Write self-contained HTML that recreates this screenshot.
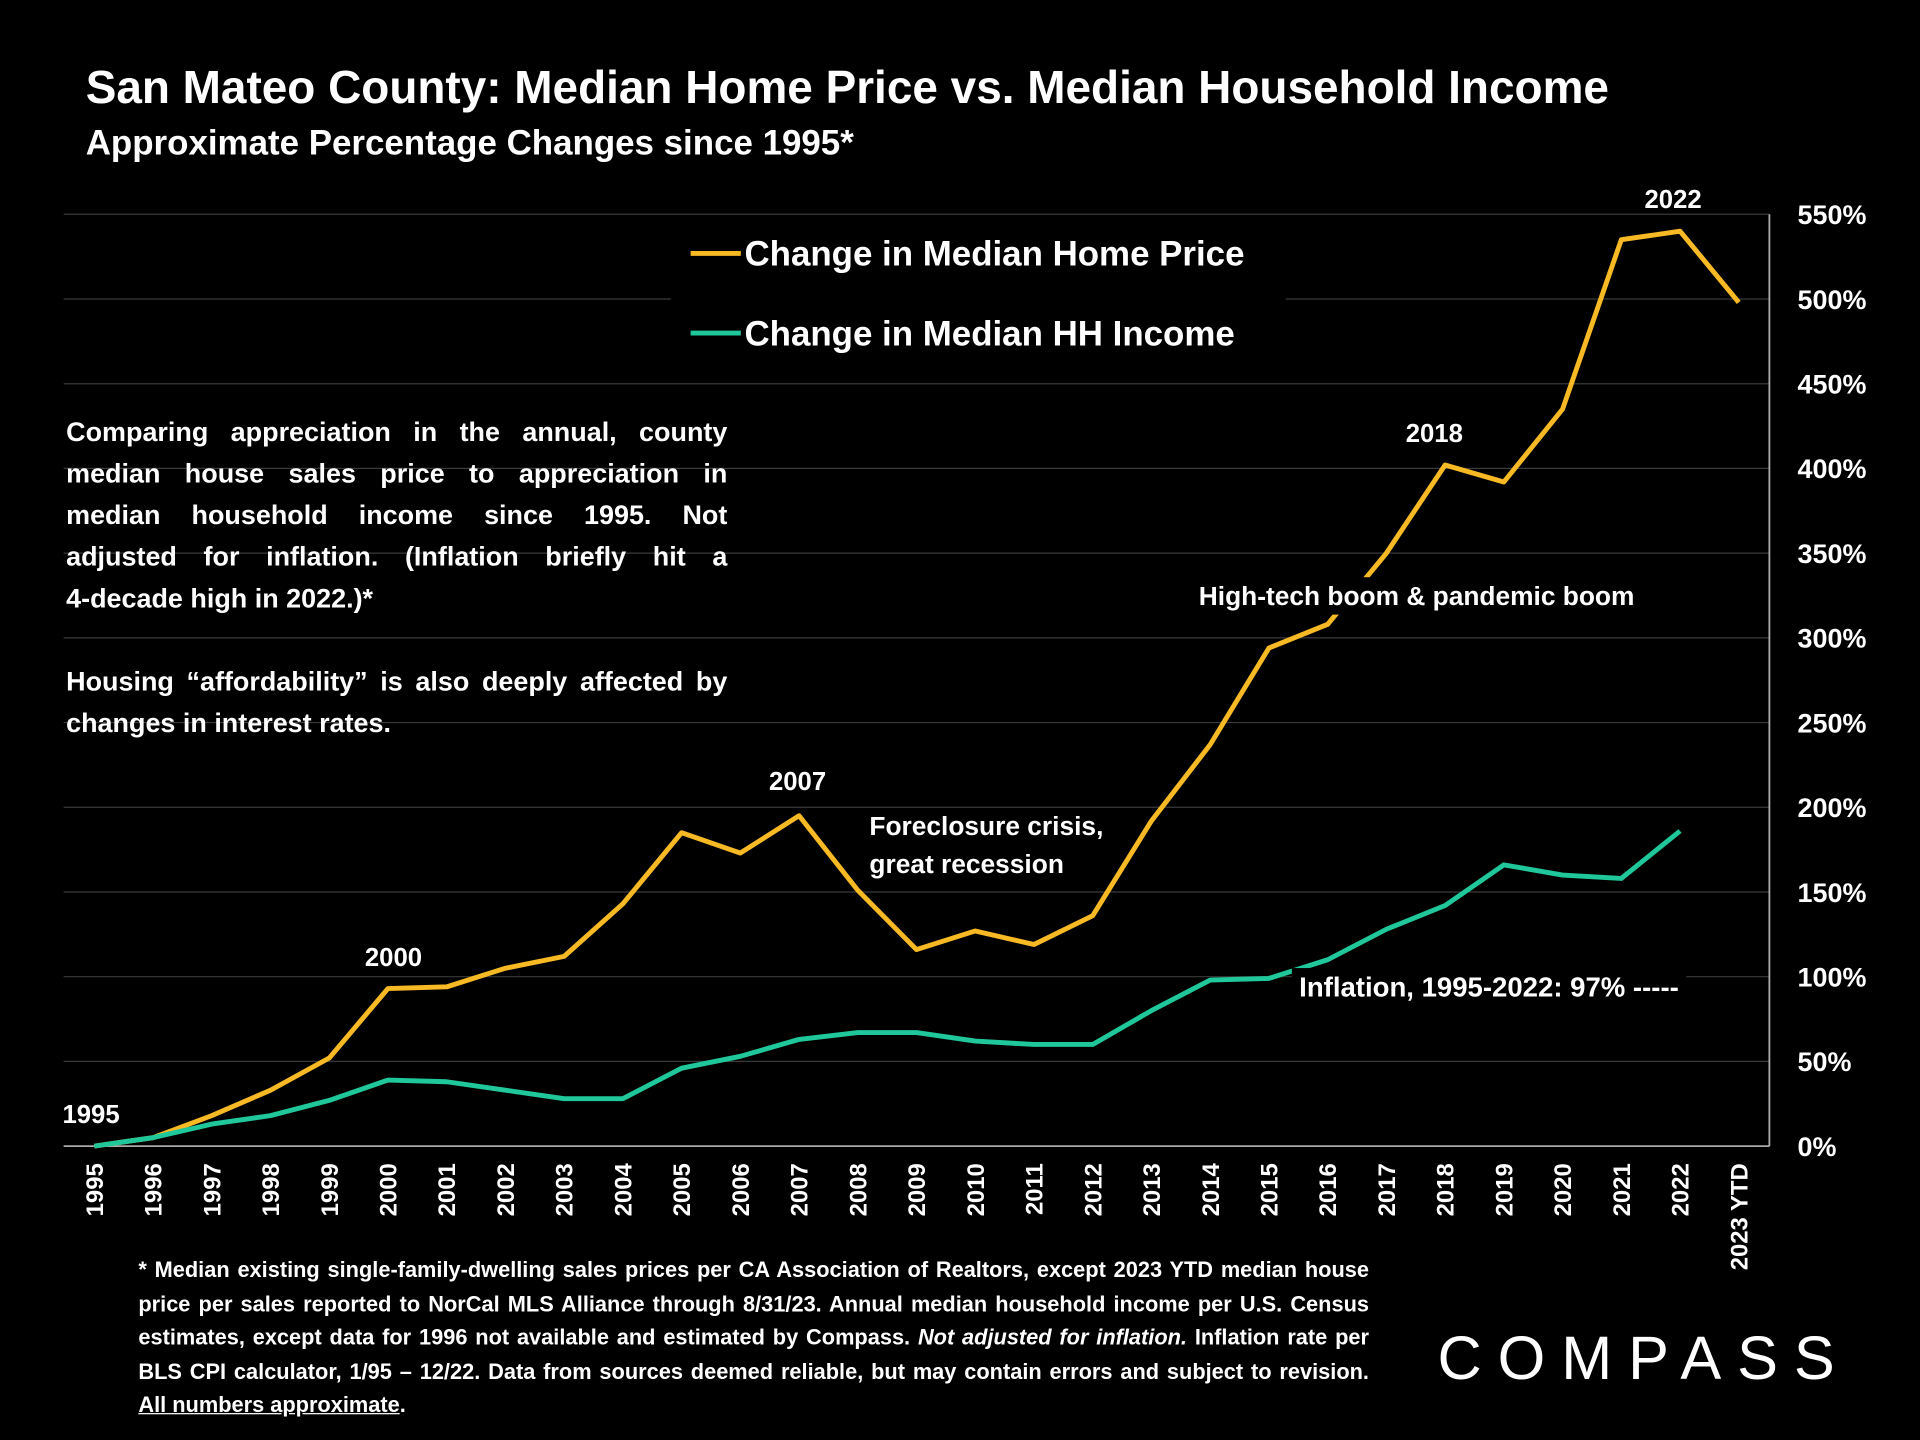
<!DOCTYPE html>
<html><head><meta charset="utf-8">
<style>
html,body{margin:0;padding:0;background:#000;}
body{width:1920px;height:1440px;overflow:hidden;}
#stage{position:absolute;left:0;top:0;width:1568px;height:1176px;transform:scale(1.22449);transform-origin:0 0;font-family:"Liberation Sans",sans-serif;color:#fff;}
.t{position:absolute;font-weight:bold;white-space:nowrap;}
#para{position:absolute;left:54px;top:336px;width:540px;font-weight:bold;font-size:22px;line-height:34px;text-align:justify;}
#foot{position:absolute;left:113px;top:1024px;width:1005px;font-weight:bold;font-size:17.8px;line-height:27.5px;text-align:justify;}
</style></head><body>
<div id="stage">
<div class="t" style="left:70px;top:50px;font-size:37.5px;">San Mateo County: Median Home Price vs. Median Household Income</div>
<div class="t" style="left:70px;top:101px;font-size:28.5px;">Approximate Percentage Changes since 1995*</div>
<svg id="chart" width="1568" height="1176" style="position:absolute;left:0;top:0"></svg>
<div id="para">Comparing appreciation in the annual, county median house sales price to appreciation in median household income since 1995. Not adjusted for inflation. (Inflation briefly hit a 4&#8209;decade high in 2022.)*<br><br>Housing “affordability” is also deeply affected by changes in interest rates.</div>
<div id="foot">* Median existing single-family-dwelling sales prices per CA Association of Realtors, except 2023 YTD median house price per sales reported to NorCal MLS Alliance through 8/31/23. Annual median household income per U.S. Census estimates, except data for 1996 not available and estimated by Compass. <i>Not adjusted for inflation.</i> Inflation rate per BLS CPI calculator, 1/95 – 12/22. Data from sources deemed reliable, but may contain errors and subject to revision. <u>All numbers approximate</u>.</div>
<div class="t" style="left:1174px;top:1080px;font-size:50px;font-weight:normal;letter-spacing:13px;">COMPASS</div>
</div>
<script>
const years=["1995","1996","1997","1998","1999","2000","2001","2002","2003","2004","2005","2006","2007","2008","2009","2010","2011","2012","2013","2014","2015","2016","2017","2018","2019","2020","2021","2022","2023 YTD"];
const homePrice=[0,5,18,33,52,93,94,105,112,143,185,173,195,151,116,127,119,136,192,237,294,308,350,402,392,435,535,540,498];
const hhIncome=[0,5,13,18,27,39,38,33,28,28,46,53,63,67,67,62,60,60,80,98,99,110,128,142,166,160,158,186];
const yTicks=[0,50,100,150,200,250,300,350,400,450,500,550];
const NS="http://www.w3.org/2000/svg";
const svg=document.getElementById('chart');
const x=i=>77+i*(1420-77)/28;
const y=v=>936-v*(936-175)/550;
function mk(tag,attrs,parent){const e=document.createElementNS(NS,tag);for(const k in attrs)e.setAttribute(k,attrs[k]);(parent||svg).appendChild(e);return e;}
yTicks.forEach(v=>{
  const g=mk('line',{x1:52,x2:1445,y1:y(v),y2:y(v),stroke:'#3a3a3a','stroke-width':1});
  
  
  const t=mk('text',{x:1468,y:y(v)+8,fill:'#fff','font-size':22,'font-weight':'bold','font-family':'Liberation Sans'});
  t.textContent=v+'%';
  
  
});
const ax=mk('line',{x1:52,x2:1445,y1:y(0),y2:y(0),stroke:'#aaa','stroke-width':1.5});


const ay=mk('line',{x1:1445,x2:1445,y1:175,y2:936,stroke:'#aaa','stroke-width':1.5});


years.forEach((yr,i)=>{
  const t=mk('text',{x:0,y:0,fill:'#fff','font-size':19.5,'font-weight':'bold','font-family':'Liberation Sans','text-anchor':'end',transform:`translate(${x(i)+7},950) rotate(-90)`});
  t.textContent=yr;
  
  
});
const ph=mk('polyline',{points:homePrice.map((v,i)=>x(i)+','+y(v)).join(' '),fill:'none',stroke:'#f7b924','stroke-width':4,'stroke-linejoin':'round'});


const pi=mk('polyline',{points:hhIncome.map((v,i)=>x(i)+','+y(v)).join(' '),fill:'none',stroke:'#1fc79a','stroke-width':4,'stroke-linejoin':'round'});


const lb=mk('rect',{x:548,y:182,width:502,height:118,fill:'#000'});


[['#f7b924','Change in Median Home Price',207],['#1fc79a','Change in Median HH Income',272]].forEach(([c,l,yy])=>{
  const ln=mk('line',{x1:564,x2:605,y1:yy,y2:yy,stroke:c,'stroke-width':4});
  
  
  const t=mk('text',{x:608,y:yy+10,fill:'#fff','font-size':28.5,'font-weight':'bold','font-family':'Liberation Sans'});
  t.textContent=l;
  
  
});
function label(txt,xx,yy,size,bg,name){
  const t=mk('text',{x:xx,y:yy,fill:'#fff','font-size':size,'font-weight':'bold','font-family':'Liberation Sans'});
  t.textContent=txt;
  
  
  if(bg){const b=t.getBBox();const r=mk('rect',{x:b.x-6,y:b.y-3,width:b.width+12,height:b.height+6,fill:'#000'});svg.insertBefore(r,t);}
}
label('1995',51,917,21,false,'annotation-1995');
label('2000',298,789,21,false,'annotation-2000');
label('2007',628,645,21,false,'annotation-2007');
label('2018',1148,361,21,false,'annotation-2018');
label('2022',1343,170,21,false,'annotation-2022');
label('Foreclosure crisis,',710,682,21.5,false,'annotation-foreclosure');
label('great recession',710,713,21.5,false,'annotation-recession');
label('High-tech boom & pandemic boom',979,494,21.5,true,'annotation-boom');
label('Inflation, 1995-2022:  97% -----',1061,814,22.5,true,'annotation-inflation');
</script>
</body></html>
